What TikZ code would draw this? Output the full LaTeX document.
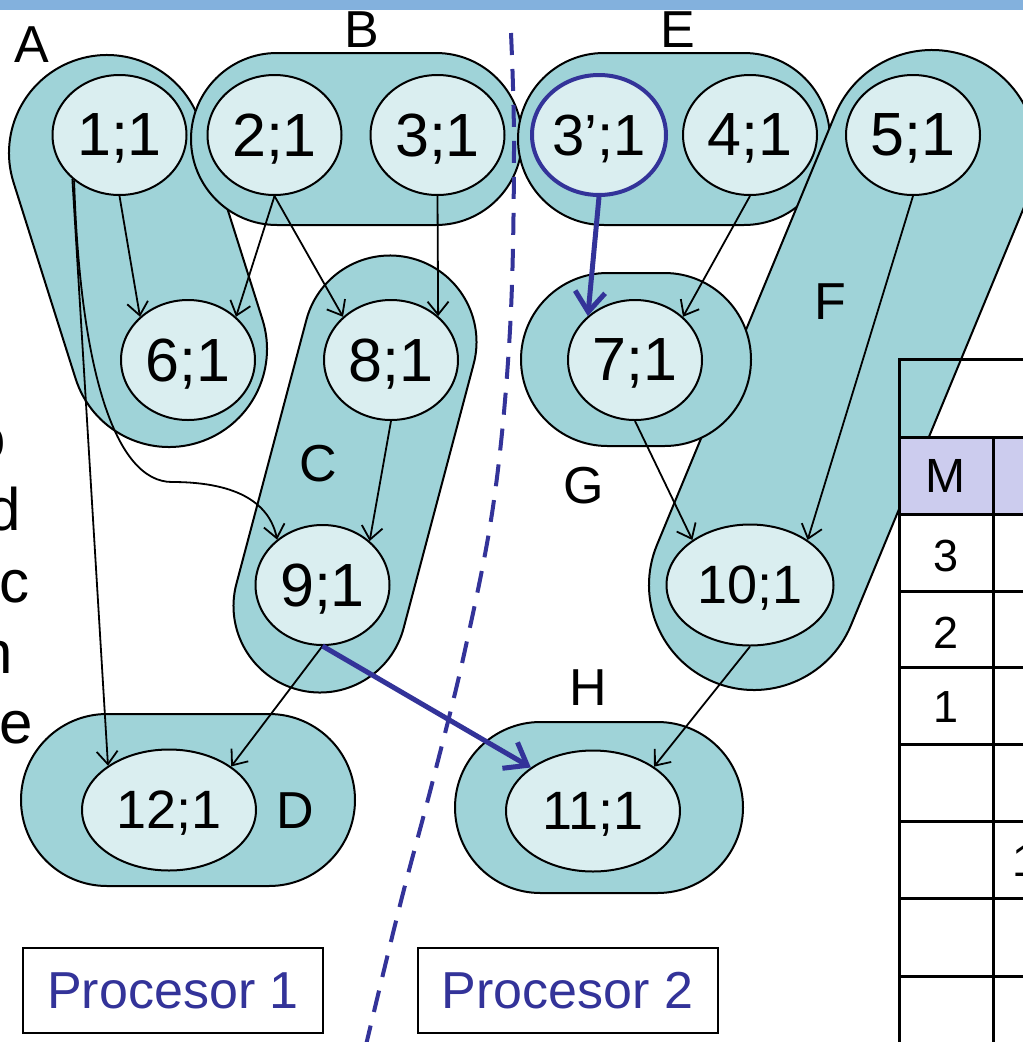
\documentclass[tikz,border=0pt]{standalone}
\usepackage{fontspec}
\setmainfont{Liberation Sans}
\usetikzlibrary{shapes.geometric,arrows.meta,calc}
\definecolor{grpfill}{RGB}{159,211,216}
\definecolor{elfill}{RGB}{218,238,240}
\definecolor{lav}{RGB}{204,204,238}
\definecolor{pblue}{RGB}{51,51,153}
\definecolor{barblue}{RGB}{131,177,221}
\tikzset{
  grp/.style={draw=black, fill=grpfill, line width=2pt},
  el/.style={ellipse, draw=black, fill=elfill, line width=2pt, inner sep=0pt,
    minimum width=134pt, minimum height=120pt, text depth=0pt,
    font=\fontsize{61}{61}\selectfont},
  elw/.style={el, minimum width=172pt, minimum height=121pt, font=\fontsize{54}{54}\selectfont},
  lbl/.style={inner sep=0pt, text depth=0pt, font=\fontsize{52}{52}\selectfont},
  frag/.style={inner sep=0pt, anchor=base west, font=\fontsize{60}{60}\selectfont},
  arr/.style={draw=black, line width=1.8pt, -{Straight Barb[length=13pt,width=21pt]}},
  barr/.style={draw=pblue, line width=5pt, -{Straight Barb[length=20pt,width=30pt]}},
  tbl/.style={draw=black, line width=3pt},
  tcell/.style={inner sep=0pt, text depth=0pt, font=\fontsize{45}{45}\selectfont},
  pbox/.style={draw=black, line width=2pt, fill=white, minimum width=300pt, minimum height=85pt,
    inner sep=0pt, text=pblue, font=\fontsize{52}{52}\selectfont},
}
\newcommand\stadium[5]{%
  \draw[grp] let \p1=(#1,-#2), \p2=(#3,-#4), \n1={atan2(\y2-\y1,\x2-\x1)} in
   ($(\p1)+(\n1+90:#5pt)$) arc[start angle=\n1+90, delta angle=180, radius=#5pt]
   -- ($(\p2)+(\n1-90:#5pt)$) arc[start angle=\n1-90, delta angle=180, radius=#5pt] -- cycle;}
\begin{document}
\begin{tikzpicture}[x=1pt,y=1pt]
\useasboundingbox (0,0) rectangle (1023,-1042);
\fill[white] (0,0) rectangle (1023,-1042);
\fill[barblue] (0,0) rectangle (1023,-10);

% groups
\stadium{107}{153}{169}{349}{98}
\stadium{277}{139}{436}{139}{86}
\stadium{390}{342}{320}{606}{86.5}
\stadium{107}{800}{269}{800}{86}
\stadium{604}{139}{744}{139}{86}
\stadium{932}{155}{754}{585}{105}
\stadium{607.5}{359.5}{664.5}{359.5}{86.5}
\stadium{540.5}{807.5}{657.5}{807.5}{85.5}

% table
\fill[lav] (899,-437) rectangle (1023,-514);
\fill[white] (899,-514) rectangle (1023,-1042);
\draw[tbl] (1025,-359) -- (899,-359) -- (899,-1045);
\foreach \yy in {437,514,591,667,744,821,898,976} {\draw[tbl] (899,-\yy) -- (1025,-\yy);}
\draw[tbl] (993,-437) -- (993,-1045);
\node[tcell, font=\fontsize{48}{48}\selectfont] (tM) at (945,-476) {M};
\node[tcell] (t3) at (946,-556) {3};
\node[tcell] (t2) at (946,-633) {2};
\node[tcell] (t1) at (946,-707) {1};
\node[tcell, anchor=base west] (tx) at (1012,-876) {1};

% group labels
\node[lbl] (lA) at (32,-45) {A};
\node[lbl] (lB) at (362,-30) {B};
\node[lbl] (lE) at (678,-30) {E};
\node[lbl] (lC) at (318,-463) {C};
\node[lbl] (lD) at (295,-811) {D};
\node[lbl] (lF) at (830,-302) {F};
\node[lbl] (lG) at (584,-485) {G};
\node[lbl] (lH) at (588,-688) {H};

% cut-off text at left edge
\node[frag] (f1) at (-28,-459) {o};
\node[frag] (f2) at (-13,-530) {d};
\node[frag] (f3) at (-1,-602) {c};
\node[frag] (f4) at (-21,-673) {n};
\node[frag] (f5) at (-1,-743) {e};

% task nodes
\node[el] (n1) at (119.5,-135) {1;1};
\node[el] (n2) at (274.5,-135) {2;1};
\node[el] (n3) at (437.5,-135) {3;1};
\node[el, draw=pblue, line width=4pt, font=\fontsize{58}{58}\selectfont] (n3p) at (599,-135) {3’;1};
\node[el] (n4) at (750,-135) {4;1};
\node[el] (n5) at (913,-135) {5;1};
\node[el] (n6) at (188,-360) {6;1};
\node[el] (n8) at (391,-360) {8;1};
\node[el] (n7) at (635,-360) {7;1};
\node[el] (n9) at (322.5,-585) {9;1};
\node[elw, minimum width=167pt] (n10) at (750,-585) {10;1};
\node[elw, minimum width=174pt] (n12) at (169,-810) {12;1};
\node[elw, minimum width=174pt] (n11) at (593,-811) {11;1};

% processor split
\draw[pblue, line width=4pt, dash pattern=on 22pt off 14pt]
  plot[smooth, tension=0.6] coordinates {(511,-33) (514,-150) (510,-330) (494,-500) (465,-650) (433,-780) (400,-905) (366,-1045)};

% edges
\draw[arr] (n1.south) -- (n6.138);
\draw[arr] (n2.south) -- (n6.42.5);
\draw[arr] (n2.south) -- (n8.138);
\draw[arr] (n3.south) -- (n8.43);
\draw[arr] (n1.223.5) -- (n12.144);
\draw[arr] (n1.225) .. controls (80,-370) and (115,-482) .. (172,-482)
   .. controls (240,-482) and (270,-505) .. (n9.135);
\draw[arr] (n8.south) -- (n9.43.5);
\draw[arr] (n9.south) -- (n12.35.5);
\draw[arr] (n4.south) -- (n7.42);
\draw[arr] (n5.south) -- (n10.38);
\draw[arr] (n7.south) -- (n10.142);
\draw[arr] (n10.south) -- (n11.36.5);
\draw[barr] (n9.south) -- (n11.145);
\draw[barr] (n3p.south) -- (n7.137.5);

% processor labels
\node[pbox] (p1) at (173,-990.5) {Procesor 1};
\node[pbox] (p2) at (567.5,-990.5) {Procesor 2};
\end{tikzpicture}
\end{document}
